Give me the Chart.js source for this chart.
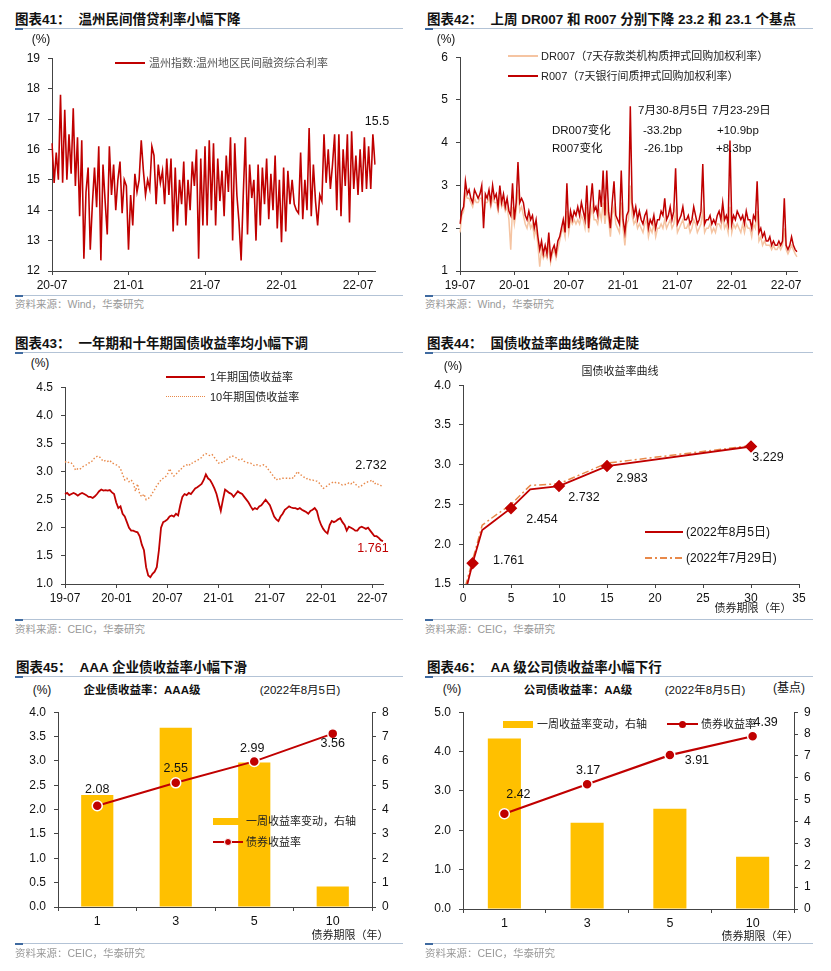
<!DOCTYPE html>
<html>
<head>
<meta charset="utf-8">
<script src="https://cdn.jsdelivr.net/npm/chart.js@4.4.1/dist/chart.umd.min.js"></script>
<style>
body{margin:0;background:#fff;}
#page{position:relative;width:831px;height:971px;overflow:hidden;font-family:"Liberation Sans","Noto Sans CJK SC",sans-serif;}
.lab{position:absolute;z-index:2;white-space:nowrap;font-size:11px;line-height:14px;color:#222;}
.t{font-weight:700;font-size:13.5px;line-height:16px;color:#111;}
.src{font-size:10.5px;color:#999;}
.ax{font-size:12px;color:#111;}
.hd{font-size:11.5px;color:#111;}
.b{font-weight:700;}
.box{position:absolute;z-index:1;}
.sw{position:absolute;z-index:2;}
.rule{position:absolute;z-index:2;height:1px;background:#b3c3d6;}
.rule i{position:absolute;left:0;top:0;width:8px;height:2px;background:#3f6aa0;}
</style>
</head>
<body>
<div id="page"></div>
<script>
// ---------- 图表41 温州指数 (每月6个点, 20-07 起) ----------
const wz41 = [
  16.2, 14.9, 15.9, 15.0, 17.8, 14.9,
  17.3, 15.0, 16.5, 15.2, 17.35, 14.8,
  16.4, 13.8, 16.3, 12.4, 14.6, 15.4,
  12.7, 14.2, 15.4, 14.1, 16.1, 12.35,
  15.5, 14.3, 13.2, 16.1, 14.5, 15.5,
  14.0, 15.0, 15.6, 13.9, 15.0, 14.8,
  12.7, 14.5, 13.5, 15.2, 14.6, 15.0,
  16.3, 15.3, 14.5, 15.0, 14.7, 16.1,
  15.8, 14.2, 15.5, 14.9, 15.3, 14.2,
  15.7, 14.5, 15.7, 13.3, 15.4, 13.5,
  15.0, 14.2, 15.6, 13.5, 15.0, 14.0,
  15.6, 14.8, 16.0, 12.4, 15.7, 13.5,
  16.1, 13.5, 16.3, 14.0, 16.2, 13.5,
  15.7, 14.3, 15.3, 13.8, 15.8, 14.6,
  16.4, 13.0, 16.2, 14.5, 13.6, 12.35,
  14.5, 16.4, 13.2, 15.5, 14.4, 15.0,
  13.0, 15.5, 13.5, 15.4, 14.2, 15.7,
  13.7, 15.2, 14.0, 15.8, 13.4, 15.0,
  12.95, 15.4, 13.3, 15.3, 14.2, 15.0,
  14.2, 14.0, 13.9, 15.9, 13.7, 15.0,
  14.0, 16.7, 13.8, 15.5, 14.3, 13.5,
  14.5, 14.3, 16.5, 14.9, 16.0, 14.7,
  15.5, 16.5, 14.0, 16.5, 13.8, 16.0,
  14.8, 16.5, 13.6, 16.6, 14.7, 15.8,
  14.5, 16.0, 14.6, 16.4, 14.7, 16.1,
  14.7, 16.5, 15.5
];
const ticks41 = ['20-07', '21-01', '21-07', '22-01', '22-07'];

// ---------- 图表42 DR007 / R007 (每月5个点, 19-07 起) ----------
const r007 = [
  2.1, 2.4, 2.5, 3.1, 2.8,   2.9, 2.7, 2.6, 2.9, 2.8,   2.7, 2.8, 3.0, 2.0, 2.8,
  2.7, 2.9, 2.6, 3.0, 2.7,   2.8, 2.5, 3.0, 2.6, 2.8,   2.5, 2.7, 2.4, 2.3, 3.05,
  2.2, 2.6, 3.55, 2.6, 2.7,  2.6, 2.3, 2.2, 2.4, 2.2,   2.3, 2.0, 2.2, 1.8, 1.5,
  1.7, 1.4, 1.6, 1.4, 1.9,   1.3, 1.5, 1.6, 1.4, 1.7,   1.8, 2.0, 2.2, 1.9, 3.05,
  2.0, 2.4, 2.2, 2.4, 2.3,   2.5, 2.3, 2.6, 2.4, 2.2,   3.0, 2.0, 2.6, 3.05, 2.4,
  2.5, 2.3, 2.9, 2.5, 3.35,  2.3, 3.35, 2.4, 2.0, 2.6,  3.1, 2.3, 2.2, 2.1, 3.35,
  2.2, 1.9, 2.3, 2.4, 4.85,  2.6, 2.3, 2.5, 2.2, 2.4,   2.2, 2.1, 2.3, 2.4, 2.0,
  2.2, 2.1, 2.3, 2.0, 2.2,   2.2, 2.4, 2.3, 2.7, 2.2,   2.3, 2.5, 2.2, 2.4, 3.4,
  2.1, 2.2, 2.3, 2.5, 2.2,   2.2, 2.3, 2.1, 2.2, 2.5,   2.3, 2.1, 2.2, 2.4, 3.5,
  2.1, 2.2, 2.2, 2.3, 2.1,   2.2, 2.1, 2.3, 2.4, 2.2,   2.6, 2.2, 2.3, 2.1, 4.05,
  2.1, 2.3, 2.2, 2.4, 2.3,   2.2, 2.3, 2.1, 2.4, 2.2,   2.2, 2.0, 2.3, 2.2, 3.1,
  1.9, 2.0, 1.8, 1.9, 1.7,   1.7, 1.8, 1.6, 1.7, 1.6,   1.6, 1.7, 1.6, 1.7, 2.7,
  1.6, 1.5, 1.6, 1.8, 1.6,   1.5, 1.45
];
const dr007 = [
  1.9, 2.3, 2.4, 2.8, 2.7,   2.7, 2.6, 2.5, 2.7, 2.6,   2.6, 2.7, 2.7, 2.3, 2.6,
  2.6, 2.7, 2.5, 2.7, 2.6,   2.6, 2.4, 2.7, 2.5, 2.6,   2.4, 2.5, 2.2, 1.5, 2.5,
  2.1, 2.4, 2.9, 2.4, 2.5,   2.3, 2.1, 2.0, 2.2, 2.0,   2.1, 1.8, 2.0, 1.6, 1.1,
  1.5, 1.3, 1.4, 1.3, 1.6,   1.2, 1.4, 1.5, 1.3, 1.5,   1.7, 1.9, 2.0, 1.8, 2.4,
  1.9, 2.2, 2.1, 2.2, 2.1,   2.2, 2.1, 2.3, 2.2, 2.0,   2.5, 1.9, 2.3, 2.5, 2.2,
  2.2, 2.1, 2.4, 2.2, 2.6,   2.1, 2.5, 2.2, 1.8, 2.3,   2.5, 2.1, 2.0, 1.9, 2.6,
  2.0, 1.6, 2.1, 2.2, 3.0,   2.3, 2.1, 2.2, 2.0, 2.1,   2.0, 1.9, 2.1, 2.2, 1.8,
  2.0, 1.9, 2.1, 1.8, 2.0,   2.0, 2.1, 2.0, 2.2, 2.0,   2.1, 2.2, 2.0, 2.1, 2.4,
  1.9, 2.0, 2.1, 2.2, 2.0,   2.0, 2.1, 1.9, 2.0, 2.2,   2.1, 1.9, 2.0, 2.1, 2.4,
  1.9, 2.0, 2.0, 2.1, 1.9,   2.0, 1.9, 2.1, 2.1, 2.0,   2.3, 2.0, 2.1, 1.9, 2.5,
  1.9, 2.1, 2.0, 2.1, 2.0,   1.9, 2.1, 1.9, 2.1, 2.0,   2.0, 1.8, 2.1, 2.0, 2.4,
  1.7, 1.8, 1.6, 1.7, 1.6,   1.6, 1.6, 1.5, 1.6, 1.5,   1.5, 1.6, 1.5, 1.6, 2.0,
  1.5, 1.4, 1.5, 1.6, 1.5,   1.4, 1.33
];
const ticks42 = ['19-07', '20-01', '20-07', '21-01', '21-07', '22-01', '22-07'];

// ---------- 图表43 国债收益率 (每月4个点, 19-07 起) ----------
const cgb1y = [
  2.60, 2.62, 2.58, 2.60,  2.62, 2.60, 2.57, 2.60,  2.62, 2.60, 2.58, 2.55,
  2.55, 2.53, 2.56, 2.60,  2.65, 2.68, 2.66, 2.67,  2.66, 2.67, 2.63, 2.60,
  2.45, 2.35, 2.38, 2.25,  2.20, 2.10, 2.00, 1.95,  1.95, 1.93, 1.92, 1.85,
  1.70, 1.60, 1.30, 1.15,  1.12, 1.18, 1.22, 1.30,  1.60, 2.00, 2.10, 2.12,
  2.15, 2.20, 2.22, 2.20,  2.25, 2.22, 2.40, 2.55,  2.60, 2.58, 2.62, 2.60,
  2.65, 2.70, 2.72, 2.75,  2.78, 2.85, 2.95, 2.88,  2.85, 2.78, 2.70, 2.60,
  2.45, 2.30, 2.50, 2.68,  2.65, 2.62, 2.60, 2.55,  2.60, 2.65, 2.62, 2.60,
  2.55, 2.50, 2.45, 2.38,  2.32, 2.35, 2.33, 2.38,  2.40, 2.45, 2.50, 2.45,
  2.40, 2.30, 2.20, 2.15,  2.12, 2.20, 2.25, 2.32,  2.35, 2.38, 2.36, 2.35,
  2.35, 2.33, 2.35, 2.32,  2.30, 2.28, 2.25, 2.30,  2.32, 2.35, 2.30, 2.15,
  2.05, 1.98, 1.93, 1.90,  2.05, 2.12, 2.10, 2.12,  2.15, 2.17, 2.10, 2.05,
  1.95, 2.02, 2.00, 1.98,  1.95, 1.95, 2.00, 2.02,  2.00, 1.98, 2.00, 1.95,
  1.90, 1.85, 1.85, 1.82,  1.78, 1.761
];
const cgb10y = [
  3.18, 3.15, 3.17, 3.15,  3.10, 3.02, 3.05, 3.04,  3.08, 3.10, 3.12, 3.15,
  3.16, 3.20, 3.25, 3.27,  3.27, 3.22, 3.18, 3.20,  3.18, 3.20, 3.15, 3.14,
  3.12, 3.10, 3.05, 2.95,  2.85, 2.88, 2.82, 2.85,  2.80, 2.65, 2.78, 2.60,
  2.55, 2.60, 2.50, 2.52,  2.55, 2.62, 2.68, 2.75,  2.80, 2.85, 2.88, 2.90,
  2.95, 3.05, 2.97, 2.92,  2.95, 3.00, 3.02, 3.08,  3.10, 3.12, 3.10, 3.15,
  3.15, 3.18, 3.20, 3.22,  3.25, 3.30, 3.32, 3.30,  3.28, 3.30, 3.25, 3.20,
  3.15, 3.17, 3.15, 3.20,  3.22, 3.25, 3.28, 3.27,  3.25, 3.22, 3.20, 3.22,
  3.18, 3.17, 3.15, 3.15,  3.12, 3.10, 3.12, 3.10,  3.10, 3.12, 3.10, 3.05,
  3.00, 2.95, 2.90, 2.85,  2.88, 2.86, 2.88, 2.88,  2.88, 2.87, 2.90, 2.88,
  2.95, 3.00, 2.95, 2.93,  2.90, 2.87, 2.88, 2.85,  2.85, 2.83, 2.83, 2.80,
  2.75, 2.70, 2.72, 2.75,  2.78, 2.80, 2.82, 2.80,  2.80, 2.78, 2.76, 2.77,
  2.77, 2.80, 2.78, 2.82,  2.78, 2.74, 2.72, 2.75,  2.78, 2.80, 2.82, 2.83,
  2.85, 2.78, 2.80, 2.76,  2.75, 2.732
];
const ticks43 = ['19-07', '20-01', '20-07', '21-01', '21-07', '22-01', '22-07'];

// ---------- 图表44 国债收益率曲线 ----------
const tenors44 = [0.25, 1, 2, 3, 5, 7, 10, 15, 30];
const curveAug5 = [1.40, 1.761, 2.18, 2.27, 2.454, 2.69, 2.732, 2.983, 3.229];
const curveJul29 = [1.47, 1.80, 2.24, 2.33, 2.50, 2.74, 2.76, 3.02, 3.24];
const marked44 = [false, true, false, false, true, false, true, true, true];

// ---------- 图表45 / 46 ----------
const terms = ['1', '3', '5', '10'];
const aaaYield = [2.08, 2.55, 2.99, 3.56];
const aaaChg = [4.6, 7.36, 5.93, 0.84];
const aaYield = [2.42, 3.17, 3.91, 4.39];
const aaChg = [7.8, 3.94, 4.58, 2.39];

const RED = '#C00000', PEACH = '#F5C4A2', ORANGE = '#E8894A', GOLD = '#FFC000', AX = '#444';
const page = document.getElementById('page');

function monthLabels(y, m, ppm, n) {
  const out = [];
  for (let i = 0; i < n; i++) {
    const k = m - 1 + Math.floor(i / ppm);
    const yy = y + Math.floor(k / 12), mm = k % 12 + 1;
    out.push(String(yy % 100).padStart(2, '0') + '-' + String(mm).padStart(2, '0'));
  }
  return out;
}

function put(text, x, y, cls, center) {
  const d = document.createElement('div');
  d.className = 'lab ' + (cls || '');
  d.textContent = text;
  d.style.left = x + 'px';
  d.style.top = y + 'px';
  d.style.transform = center ? 'translate(-50%,-50%)' : 'translateY(-50%)';
  page.appendChild(d);
  return d;
}
function rule(x1, x2, y) {
  const d = document.createElement('div');
  d.className = 'rule';
  d.style.left = x1 + 'px'; d.style.top = y + 'px'; d.style.width = (x2 - x1) + 'px';
  d.appendChild(document.createElement('i'));
  page.appendChild(d);
}
function swatch(x, y, w, h, css) {
  const d = document.createElement('div');
  d.className = 'sw';
  d.style.left = x + 'px'; d.style.top = (y - h / 2) + 'px';
  d.style.width = w + 'px'; d.style.height = h + 'px';
  Object.assign(d.style, css);
  page.appendChild(d);
  return d;
}
function title(x, y, num, text) {
  const d = put('', x, y, 't');
  d.innerHTML = '图表' + num + '：<span style="margin-left:8px">' + text + '</span>';
}
// area = [left, right, top, bottom] of the plot area in page pixels
function makeCanvas(area, yW, xH, padT, padR, yRW) {
  const left = area[0] - yW, top = area[2] - padT;
  const w = area[1] + padR + (yRW || 0) - left, h = area[3] + xH - top;
  const box = document.createElement('div');
  box.className = 'box';
  Object.assign(box.style, {left: left + 'px', top: top + 'px', width: w + 'px', height: h + 'px'});
  const c = document.createElement('canvas');
  box.appendChild(c);
  page.appendChild(box);
  return c;
}

Chart.defaults.font.family = '"Liberation Sans","Noto Sans CJK SC",sans-serif';
Chart.defaults.font.size = 12;
Chart.defaults.color = '#111';
Chart.defaults.animation = false;
Chart.defaults.responsive = true;
Chart.defaults.maintainAspectRatio = false;
Chart.defaults.plugins.legend.display = false;
Chart.defaults.plugins.tooltip.enabled = false;

// labels on points, text taken from the data value
Chart.register({
  id: 'valueTags',
  afterDatasetsDraw(chart, args, opts) {
    if (!opts || !opts.items) return;
    const ctx = chart.ctx;
    ctx.save();
    ctx.font = (opts.size || 12.5) + 'px "Liberation Sans","Noto Sans CJK SC",sans-serif';
    ctx.textBaseline = 'middle';
    opts.items.forEach(it => {
      const el = chart.getDatasetMeta(it.ds).data[it.i];
      const raw = chart.data.datasets[it.ds].data[it.i];
      const v = typeof raw === 'object' ? raw.y : raw;
      ctx.fillStyle = it.color || '#111';
      ctx.textAlign = it.align || 'center';
      ctx.fillText(v.toFixed(it.dec), el.x + (it.dx || 0), el.y + (it.dy || 0));
    });
    ctx.restore();
  }
});

function yAxis(min, max, step, w, o) {
  o = o || {};
  const ticks = {stepSize: step, padding: o.pad || 8, color: '#111', font: {size: 12}};
  if (o.dec !== undefined) ticks.callback = v => v.toFixed(o.dec);
  return {
    type: 'linear', min, max, position: o.position || 'left',
    grid: {drawOnChartArea: false, tickLength: 4, color: AX},
    border: {color: AX},
    ticks,
    afterFit(s) { s.width = w; }
  };
}
function xDates(labels, tickLabels, h) {
  return {
    type: 'category',
    grid: {drawOnChartArea: false, tickLength: 4, color: AX},
    border: {color: AX},
    ticks: {autoSkip: false, maxRotation: 0, padding: 3, color: '#111', font: {size: 12}},
    afterBuildTicks(s) { s.ticks = tickLabels.map(l => ({value: labels.indexOf(l)})); },
    afterFit(s) { s.height = h; }
  };
}
function xTerms(h) {
  return {
    type: 'category', offset: true,
    grid: {drawOnChartArea: false, tickLength: 4, color: AX, offset: true},
    border: {color: AX},
    ticks: {padding: 3, color: '#111', font: {size: 12.5}},
    afterFit(s) { s.height = h; }
  };
}
function lineSet(data, color, width, extra) {
  return Object.assign({type: 'line', data, borderColor: color, borderWidth: width, pointRadius: 0, tension: 0, fill: false}, extra || {});
}

// ======================= 图表41 =======================
title(15, 20, '41', '温州民间借贷利率小幅下降');
rule(15, 403, 28);
put('(%)', 41, 39, 'ax', true);
swatch(115, 63, 30, 2, {background: RED});
put('温州指数:温州地区民间融资综合利率', 149, 63).style.color = '#555';
rule(15, 403, 295);
put('资料来源：Wind，华泰研究', 15, 304, 'src');
{
  const labels = monthLabels(2020, 7, 6, wz41.length);
  new Chart(makeCanvas([52, 375, 53, 271], 45, 24, 10, 20), {
    data: {labels, datasets: [lineSet(wz41, RED, 1.6)]},
    options: {
      layout: {padding: {top: 10, right: 20}},
      scales: {x: xDates(labels, ticks41, 24), y: yAxis(12, 19, 1, 45)},
      plugins: {valueTags: {items: [{ds: 0, i: wz41.length - 1, dec: 1, dx: 2, dy: -43}]}}
    }
  });
}

// ======================= 图表42 =======================
title(427, 20, '42', '上周 DR007 和 R007 分别下降 23.2 和 23.1 个基点');
rule(425, 813, 28);
put('(%)', 446, 39, 'ax', true);
swatch(508, 56, 30, 2, {background: PEACH});
put('DR007（7天存款类机构质押式回购加权利率）', 541, 56);
swatch(508, 76, 30, 2, {background: RED});
put('R007（7天银行间质押式回购加权利率）', 541, 76);
put('7月30-8月5日', 638, 110, 'hd');
put('7月23-29日', 712, 110, 'hd');
put('DR007变化', 552, 130, 'hd');
put('-33.2bp', 643, 130, 'hd');
put('+10.9bp', 717, 130, 'hd');
put('R007变化', 552, 148, 'hd');
put('-26.1bp', 644, 148, 'hd');
put('+8.3bp', 716, 148, 'hd');
rule(425, 813, 295);
put('资料来源：Wind，华泰研究', 425, 304, 'src');
{
  const labels = monthLabels(2019, 7, 5, r007.length);
  new Chart(makeCanvas([460, 797, 52, 271], 45, 24, 10, 14), {
    data: {labels, datasets: [lineSet(r007, RED, 1.5), lineSet(dr007, PEACH, 1.5)]},
    options: {
      layout: {padding: {top: 10, right: 14}},
      scales: {x: xDates(labels, ticks42, 24), y: yAxis(1, 6, 1, 45)}
    }
  });
}

// ======================= 图表43 =======================
title(15, 344, '43', '一年期和十年期国债收益率均小幅下调');
rule(15, 403, 352);
put('(%)', 40, 363, 'ax', true);
swatch(166, 377, 39, 2, {background: RED});
put('1年期国债收益率', 210, 377);
swatch(166, 397, 39, 2, {borderTop: '1.5px dotted ' + ORANGE, height: '0px'});
put('10年期国债收益率', 210, 397);
rule(15, 403, 619);
put('资料来源：CEIC，华泰研究', 15, 629, 'src');
{
  const labels = monthLabels(2019, 7, 4, cgb1y.length);
  const last = cgb1y.length - 1;
  new Chart(makeCanvas([65, 383, 382, 584], 50, 24, 10, 20), {
    data: {labels, datasets: [lineSet(cgb1y, RED, 1.8), lineSet(cgb10y, ORANGE, 1.4, {borderDash: [1.5, 2]})]},
    options: {
      layout: {padding: {top: 10, right: 20}},
      scales: {x: xDates(labels, ticks43, 24), y: yAxis(1, 4.5, 0.5, 50, {dec: 1})},
      plugins: {valueTags: {items: [
        {ds: 1, i: last, dec: 3, dx: -12, dy: -21},
        {ds: 0, i: last, dec: 3, dx: -10, dy: 7, color: RED}
      ]}}
    }
  });
}

// ======================= 图表44 =======================
title(427, 344, '44', '国债收益率曲线略微走陡');
rule(425, 813, 352);
put('(%)', 453, 366, 'ax', true);
put('国债收益率曲线', 620, 371, '', true);
swatch(645, 532, 38, 2, {background: RED});
put('(2022年8月5日)', 686, 532, 'ax');
swatch(645, 558, 38, 2, {background: 'repeating-linear-gradient(90deg,' + ORANGE + ' 0 7px,transparent 7px 10px,' + ORANGE + ' 10px 12px,transparent 12px 15px)'});
put('(2022年7月29日)', 686, 558, 'ax');
put('债券期限（年）', 753, 608, '', true);
rule(425, 813, 619);
put('资料来源：CEIC，华泰研究', 425, 629, 'src');
{
  const solid = tenors44.map((t, i) => ({x: t, y: curveAug5[i]}));
  const dash = tenors44.map((t, i) => ({x: t, y: curveJul29[i]}));
  const tagOffsets = {1: [36, -3], 4: [31, 11], 6: [25, 12], 7: [25, 12], 8: [17, 11]};
  const items = [];
  marked44.forEach((m, i) => { if (m) items.push({ds: 0, i, dec: 3, dx: tagOffsets[i][0], dy: tagOffsets[i][1]}); });
  new Chart(makeCanvas([463, 799, 380, 584], 45, 24, 10, 14), {
    type: 'line',
    data: {datasets: [
      lineSet(solid, RED, 1.8, {pointRadius: marked44.map(m => m ? 5 : 0), pointStyle: 'rectRot', pointBackgroundColor: RED, pointBorderColor: RED}),
      lineSet(dash, ORANGE, 1.5, {borderDash: [7, 3, 2, 3]})
    ]},
    options: {
      layout: {padding: {top: 10, right: 14}},
      scales: {
        x: {type: 'linear', min: 0, max: 35,
            grid: {drawOnChartArea: false, tickLength: 4, color: AX}, border: {color: AX},
            ticks: {stepSize: 5, padding: 3, color: '#111', font: {size: 12}},
            afterFit(s) { s.height = 24; }},
        y: yAxis(1.5, 4.0, 0.5, 45, {dec: 1})
      },
      plugins: {valueTags: {items}}
    }
  });
}

// ======================= 图表45 =======================
title(16, 668, '45', 'AAA 企业债收益率小幅下滑');
rule(15, 403, 676);
put('(%)', 42, 690, 'ax', true);
put('企业债收益率：AAA级', 142, 690, 'hd b', true);
put('(2022年8月5日)', 300, 690, 'hd', true);
swatch(213, 821, 26, 7, {background: GOLD});
put('一周收益率变动，右轴', 246, 821);
swatch(213, 842, 30, 2, {background: RED});
swatch(224, 842, 8, 8, {background: RED, borderRadius: '50%', boxSizing: 'border-box', border: '1px solid #fff'});
put('债券收益率', 246, 842);
put('债券期限（年）', 350, 935, '', true);
rule(15, 403, 943);
put('资料来源：CEIC，华泰研究', 15, 953, 'src');
new Chart(makeCanvas([58, 372, 707, 907], 45, 24, 10, 0, 30), {
  data: {labels: terms, datasets: [
    lineSet(aaaYield, RED, 2, {yAxisID: 'y', order: 1, pointRadius: 5, pointBackgroundColor: RED, pointBorderColor: '#fff', pointBorderWidth: 1.5}),
    {type: 'bar', data: aaaChg, yAxisID: 'y1', order: 2, backgroundColor: GOLD, barPercentage: 0.41, categoryPercentage: 1}
  ]},
  options: {
    layout: {padding: {top: 10}},
    scales: {
      x: xTerms(24),
      y: yAxis(0, 4, 0.5, 45, {dec: 1}),
      y1: yAxis(0, 8, 1, 30, {position: 'right', pad: 6})
    },
    plugins: {valueTags: {items: [
      {ds: 0, i: 0, dec: 2, dy: -16}, {ds: 0, i: 1, dec: 2, dy: -14},
      {ds: 0, i: 2, dec: 2, dx: -2, dy: -13}, {ds: 0, i: 3, dec: 2, dy: 10}
    ]}}
  }
});

// ======================= 图表46 =======================
title(427, 668, '46', 'AA 级公司债收益率小幅下行');
rule(425, 813, 676);
put('(%)', 452, 689, 'ax', true);
put('公司债收益率：AA级', 578, 690, 'hd b', true);
put('(2022年8月5日)', 705, 690, 'hd', true);
put('(基点)', 789, 688, 'ax', true);
swatch(503, 724, 30, 7, {background: GOLD});
put('一周收益率变动，右轴', 537, 724);
swatch(667, 724, 31, 2.5, {background: RED});
swatch(679, 724, 7, 7, {background: RED, borderRadius: '50%'});
put('债券收益率', 701, 724);
put('债券期限（年）', 760, 936, '', true);
rule(425, 813, 943);
put('资料来源：CEIC，华泰研究', 425, 953, 'src');
new Chart(makeCanvas([463, 794, 707, 909], 45, 24, 10, 0, 30), {
  data: {labels: terms, datasets: [
    lineSet(aaYield, RED, 2.2, {yAxisID: 'y', order: 1, pointRadius: 5, pointBackgroundColor: RED, pointBorderColor: '#fff', pointBorderWidth: 1.5}),
    {type: 'bar', data: aaChg, yAxisID: 'y1', order: 2, backgroundColor: GOLD, barPercentage: 0.4, categoryPercentage: 1}
  ]},
  options: {
    layout: {padding: {top: 10}},
    scales: {
      x: xTerms(24),
      y: yAxis(0, 5, 1, 45, {dec: 1}),
      y1: yAxis(0, 9, 1, 30, {position: 'right', pad: 6})
    },
    plugins: {valueTags: {items: [
      {ds: 0, i: 0, dec: 2, dx: 14, dy: -19}, {ds: 0, i: 1, dec: 2, dx: 1, dy: -14},
      {ds: 0, i: 2, dec: 2, dx: 27, dy: 5}, {ds: 0, i: 3, dec: 2, dx: 13, dy: -14}
    ]}}
  }
});
</script>
</body>
</html>
